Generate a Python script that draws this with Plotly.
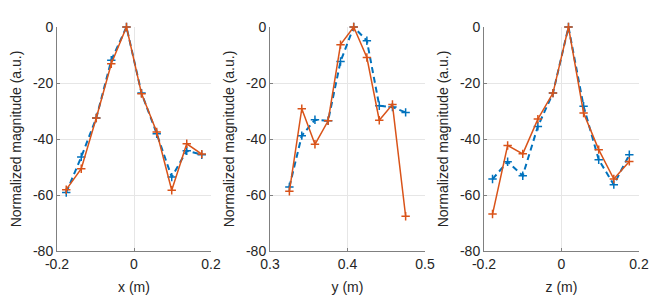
import plotly.graph_objects as go

x_pos = [-0.176, -0.137, -0.098, -0.059, -0.0195, 0.0195, 0.059, 0.098, 0.137, 0.176]
x_blue = [-59.1, -46.4, -32.5, -11.9, 0.0, -23.6, -38.1, -53.6, -44.2, -45.6]
x_orange = [-58.1, -50.6, -32.5, -13.1, 0.0, -23.8, -37.5, -58.3, -41.7, -45.4]

y_pos = [0.325, 0.341, 0.358, 0.375, 0.391, 0.408, 0.425, 0.441, 0.458, 0.475]
y_blue = [-57.1, -38.8, -33.1, -33.5, -12.3, 0.0, -4.9, -28.1, -28.6, -30.5]
y_orange = [-58.7, -29.2, -41.9, -33.5, -6.3, 0.0, -10.9, -33.3, -27.7, -67.6]

z_pos = [-0.178, -0.139, -0.100, -0.061, -0.022, 0.018, 0.057, 0.096, 0.135, 0.175]
z_blue = [-54.3, -48.1, -53.1, -35.5, -23.6, 0.0, -28.3, -47.4, -56.3, -45.6]
z_orange = [-66.8, -42.3, -45.3, -32.9, -23.6, 0.0, -30.7, -43.8, -54.3, -48.0]

x_titles = ["x (m)", "y (m)", "z (m)"]
x_ranges = [[-0.2, 0.2], [0.3, 0.5], [-0.2, 0.2]]
x_ticks = [[-0.2, 0, 0.2], [0.3, 0.4, 0.5], [-0.2, 0, 0.2]]
x_ticklabels = [["-0.2", "0", "0.2"], ["0.3", "0.4", "0.5"], ["-0.2", "0", "0.2"]]
y_ticks = [0, -20, -40, -60, -80]
y_title = "Normalized magnitude (a.u.)"

BLUE = "#0072BD"
ORANGE = "#D95319"

W, H, OFF = 664, 300, 8
dom_px = [(57, 211), (270, 425), (484, 639)]
domains = [[(a - OFF) / W, (b - OFF) / W] for a, b in dom_px]
ydom = [1 - (251 - OFF) / H, 1 - (27 - OFF) / H]

fig = go.Figure()
series = [(x_pos, x_blue, x_orange), (y_pos, y_blue, y_orange), (z_pos, z_blue, z_orange)]
for i, (pos, b, o) in enumerate(series):
    sfx = "" if i == 0 else str(i + 1)
    fig.add_trace(go.Scatter(x=pos, y=b, mode="lines+markers", xaxis="x" + sfx, yaxis="y" + sfx,
                             line=dict(color=BLUE, width=2, dash="6px,4px"),
                             marker=dict(symbol="cross-thin", size=6, line=dict(color=BLUE, width=1.5)),
                             showlegend=False, cliponaxis=False))
    fig.add_trace(go.Scatter(x=pos, y=o, mode="lines+markers", xaxis="x" + sfx, yaxis="y" + sfx,
                             line=dict(color=ORANGE, width=1.5),
                             marker=dict(symbol="cross-thin", size=6, line=dict(color=ORANGE, width=1.5)),
                             showlegend=False, cliponaxis=False))

layout = dict(width=W, height=H, margin=dict(l=0, r=0, t=0, b=0),
              paper_bgcolor="white", plot_bgcolor="white",
              font=dict(family="Liberation Sans, Arial, sans-serif", size=14, color="#262626"))
for i in range(3):
    sfx = "" if i == 0 else str(i + 1)
    layout["xaxis" + sfx] = dict(domain=domains[i], anchor="y" + sfx, range=x_ranges[i],
                                 tickvals=x_ticks[i], ticktext=x_ticklabels[i],
                                 title=dict(text=x_titles[i], standoff=11, font=dict(size=14)),
                                 automargin=False,
                                 showgrid=True, gridcolor="#e6e6e6", zeroline=False,
                                 showline=True, linecolor="#808080", linewidth=1,
                                 ticks="inside", ticklen=3, tickcolor="#808080",
                                 tickfont=dict(size=14))
    layout["yaxis" + sfx] = dict(domain=ydom, anchor="x" + sfx, range=[-80, 0],
                                 tickvals=y_ticks, ticktext=[str(v) for v in y_ticks],
                                 title=dict(text=y_title, standoff=8, font=dict(size=14)),
                                 automargin=False,
                                 showgrid=True, gridcolor="#e6e6e6", zeroline=False,
                                 showline=True, linecolor="#808080", linewidth=1,
                                 ticks="inside", ticklen=3, tickcolor="#808080",
                                 tickfont=dict(size=14))
fig.update_layout(**layout)
fig.write_html("out.html")
